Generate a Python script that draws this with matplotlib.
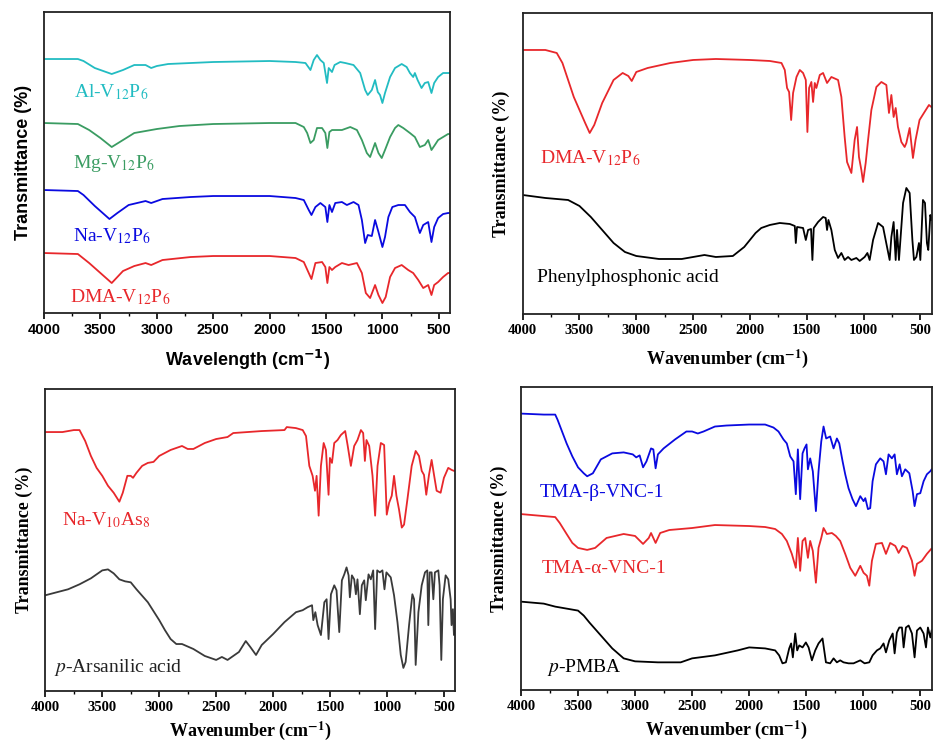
import numpy as np
import matplotlib
matplotlib.use('Agg')
import matplotlib.pyplot as plt
from matplotlib.ticker import MultipleLocator

# FTIR spectra, (wavenumber cm-1, transmittance a.u.) pairs

# panel a: V12P6 salts
al_v12p6 = [(4000, 254), (3700, 254), (3650, 252), (3550, 245), (3450, 241), (3400, 239), (3300, 243),
            (3200, 248), (3100, 248), (3050, 245), (3000, 247), (2900, 249), (2500, 251), (2000, 252),
            (1770, 251), (1682, 250), (1638, 243), (1609, 253), (1580, 258), (1550, 253), (1520, 250),
            (1491, 230), (1476, 245), (1447, 241), (1424, 248), (1374, 251), (1329, 250), (1256, 248),
            (1197, 240), (1153, 223), (1130, 218), (1094, 223), (1065, 233), (1041, 221), (1021, 218),
            (1000, 210), (977, 220), (932, 236), (888, 245), (829, 249), (785, 246), (756, 240), (727, 236),
            (712, 240), (688, 233), (653, 225), (624, 230), (594, 231), (565, 220), (541, 230), (506, 236),
            (462, 240), (418, 240), (400, 240)]
mg_v12p6 = [(4000, 190), (3700, 189), (3600, 183), (3500, 175), (3400, 166), (3300, 173), (3200, 180),
            (3050, 183), (3000, 184), (2800, 187), (2500, 189), (2000, 190), (1770, 190), (1697, 186),
            (1667, 180), (1638, 170), (1609, 173), (1580, 185), (1535, 185), (1506, 180), (1488, 165),
            (1470, 181), (1447, 183), (1403, 183), (1359, 183), (1285, 186), (1226, 183), (1182, 173),
            (1138, 160), (1109, 156), (1065, 170), (1035, 160), (1006, 155), (977, 163), (932, 176),
            (888, 185), (859, 188), (815, 185), (756, 180), (712, 176), (668, 166), (624, 168), (594, 173),
            (565, 163), (535, 168), (506, 173), (462, 176), (418, 179), (400, 179)]
na_v12p6 = [(4000, 123), (3700, 122), (3650, 118), (3550, 107), (3450, 97), (3420, 94), (3350, 100),
            (3250, 108), (3100, 112), (3050, 110), (2950, 114), (2700, 116), (2500, 117), (2000, 117),
            (1770, 115), (1697, 113), (1653, 103), (1629, 98), (1594, 106), (1550, 110), (1506, 106),
            (1488, 91), (1470, 108), (1447, 101), (1418, 110), (1359, 111), (1315, 108), (1256, 111),
            (1212, 108), (1182, 93), (1153, 70), (1130, 78), (1094, 77), (1065, 93), (1035, 81), (1000, 66),
            (977, 76), (947, 96), (912, 106), (859, 108), (800, 108), (756, 101), (712, 96), (668, 80),
            (638, 88), (594, 91), (565, 71), (541, 86), (506, 95), (462, 99), (418, 100), (400, 100)]
dma_v12p6 = [(4000, 60), (3700, 59), (3600, 50), (3500, 40), (3400, 30), (3300, 42), (3200, 47), (3100, 50),
             (3050, 48), (2950, 53), (2700, 56), (2500, 57), (2000, 57), (1770, 55), (1697, 51), (1653, 40),
             (1629, 34), (1594, 50), (1535, 51), (1506, 46), (1488, 30), (1470, 46), (1447, 43), (1418, 46),
             (1359, 50), (1300, 48), (1226, 50), (1182, 40), (1147, 20), (1109, 15), (1065, 28), (1035, 18),
             (1000, 10), (971, 16), (932, 36), (888, 45), (829, 48), (771, 43), (727, 40), (682, 33),
             (638, 25), (594, 28), (565, 18), (541, 28), (506, 31), (462, 36), (418, 40), (400, 40)]

# panel b: DMA-V12P6 vs phenylphosphonic acid
dma_v12p6_b = [(4000, 264), (3800, 264), (3700, 261), (3650, 251), (3600, 234), (3550, 217), (3500, 204),
               (3450, 191), (3410, 181), (3370, 189), (3300, 211), (3200, 234), (3120, 241), (3070, 238),
               (3040, 233), (3000, 242), (2900, 246), (2700, 251), (2500, 254), (2300, 255), (2000, 254),
               (1825, 253), (1722, 251), (1693, 244), (1673, 226), (1655, 222), (1637, 194), (1620, 221),
               (1590, 237), (1561, 244), (1532, 241), (1508, 234), (1494, 182), (1479, 226), (1459, 232),
               (1444, 212), (1429, 231), (1415, 226), (1385, 239), (1356, 241), (1321, 231), (1283, 237),
               (1224, 234), (1195, 217), (1166, 177), (1145, 152), (1107, 141), (1078, 174), (1057, 187),
               (1040, 157), (1019, 144), (1004, 132), (981, 151), (960, 174), (931, 204), (887, 227),
               (843, 232), (799, 229), (776, 201), (755, 219), (735, 197), (717, 206), (697, 187), (667, 172),
               (638, 167), (623, 171), (594, 186), (565, 156), (542, 174), (507, 194), (463, 202), (424, 209),
               (403, 207)]
phenylphosphonic = [(4000, 119), (3800, 116), (3600, 114), (3500, 108), (3400, 97), (3300, 84), (3200, 71),
                    (3100, 62), (3000, 58), (2800, 55), (2600, 55), (2400, 59), (2300, 57), (2150, 58),
                    (2050, 67), (1950, 81), (1900, 86), (1825, 89), (1737, 91), (1649, 90), (1605, 88),
                    (1596, 71), (1585, 87), (1532, 86), (1508, 74), (1488, 84), (1462, 85), (1450, 54),
                    (1438, 86), (1400, 92), (1356, 97), (1333, 96), (1321, 84), (1309, 94), (1283, 84),
                    (1253, 64), (1224, 56), (1195, 61), (1166, 54), (1136, 57), (1107, 54), (1063, 56),
                    (1034, 53), (990, 57), (966, 61), (946, 54), (916, 74), (872, 91), (828, 87), (793, 67),
                    (770, 54), (755, 77), (735, 92), (717, 54), (705, 84), (688, 54), (652, 111), (623, 126),
                    (594, 121), (570, 74), (556, 54), (535, 57), (512, 71), (500, 54), (477, 114), (459, 111),
                    (442, 71), (430, 64), (412, 99), (400, 94)]

# panel c: Na-V10As8 vs p-arsanilic acid
na_v10as8 = [(4000, 260), (3850, 260), (3750, 262), (3700, 262), (3650, 251), (3600, 236), (3550, 224),
             (3500, 216), (3450, 206), (3400, 199), (3350, 190), (3320, 199), (3280, 216), (3250, 216),
             (3230, 214), (3200, 219), (3150, 226), (3100, 229), (3050, 230), (3000, 236), (2900, 242),
             (2800, 246), (2750, 243), (2700, 243), (2600, 249), (2500, 253), (2400, 255), (2350, 259),
             (2100, 261), (1900, 262), (1880, 265), (1800, 264), (1740, 262), (1711, 256), (1682, 226),
             (1653, 216), (1632, 201), (1618, 216), (1600, 176), (1580, 226), (1556, 249), (1536, 242),
             (1513, 197), (1501, 234), (1483, 229), (1463, 249), (1434, 252), (1405, 257), (1367, 261),
             (1346, 247), (1317, 226), (1288, 246), (1259, 252), (1229, 262), (1209, 259), (1194, 231),
             (1180, 252), (1156, 246), (1127, 216), (1104, 176), (1083, 226), (1054, 249), (1025, 247),
             (1002, 177), (981, 189), (958, 196), (938, 216), (917, 196), (894, 182), (870, 164), (850, 167),
             (821, 192), (783, 226), (748, 241), (719, 236), (695, 221), (675, 217), (655, 197), (631, 217),
             (608, 232), (587, 217), (564, 201), (529, 199), (500, 214), (462, 224), (433, 222), (412, 221),
             (400, 221)]
arsanilic = [(4000, 96), (3900, 99), (3800, 102), (3700, 107), (3600, 113), (3500, 121), (3450, 122),
             (3400, 118), (3350, 112), (3300, 110), (3250, 109), (3200, 102), (3100, 89), (3000, 71),
             (2950, 61), (2900, 52), (2850, 47), (2800, 47), (2700, 42), (2600, 35), (2500, 31), (2450, 34),
             (2400, 31), (2300, 39), (2240, 50), (2200, 44), (2150, 36), (2100, 46), (2000, 57), (1900, 69),
             (1799, 79), (1740, 81), (1697, 84), (1658, 86), (1647, 71), (1629, 79), (1609, 66), (1580, 56),
             (1550, 89), (1530, 92), (1513, 52), (1492, 97), (1463, 106), (1443, 101), (1419, 59),
             (1396, 111), (1375, 117), (1355, 124), (1337, 116), (1326, 94), (1308, 116), (1288, 112),
             (1273, 97), (1259, 112), (1238, 77), (1221, 106), (1200, 111), (1186, 91), (1162, 117),
             (1142, 112), (1121, 121), (1104, 62), (1086, 121), (1063, 119), (1040, 121), (1022, 102),
             (1005, 119), (967, 114), (938, 96), (908, 69), (879, 36), (856, 23), (836, 29), (806, 66),
             (777, 97), (762, 92), (748, 26), (724, 79), (695, 106), (666, 119), (646, 121), (637, 66),
             (625, 119), (608, 119), (593, 92), (579, 119), (549, 121), (538, 106), (523, 31), (509, 92),
             (485, 116), (462, 112), (441, 92), (433, 66), (421, 82), (412, 56), (400, 60)]

# panel d: TMA-VNC-1 phases vs p-PMBA
tma_beta = [(4000, 278), (3800, 277), (3700, 277), (3680, 272), (3650, 263), (3600, 248), (3550, 235),
            (3500, 224), (3450, 218), (3420, 215), (3370, 218), (3300, 232), (3200, 238), (3100, 239),
            (3020, 237), (2990, 234), (2960, 236), (2930, 224), (2900, 230), (2860, 243), (2840, 242),
            (2820, 223), (2800, 237), (2750, 243), (2650, 252), (2550, 260), (2500, 260), (2450, 258),
            (2400, 260), (2300, 265), (2200, 266), (2000, 267), (1860, 267), (1787, 264), (1743, 260),
            (1699, 252), (1670, 248), (1640, 235), (1611, 230), (1591, 197), (1573, 242), (1553, 192),
            (1532, 238), (1515, 243), (1497, 247), (1485, 222), (1465, 233), (1442, 220), (1415, 180),
            (1392, 220), (1368, 250), (1348, 265), (1325, 253), (1290, 255), (1260, 243), (1231, 253),
            (1210, 248), (1181, 230), (1158, 217), (1129, 203), (1094, 192), (1064, 185), (1026, 195),
            (997, 190), (982, 193), (959, 182), (939, 183), (918, 210), (889, 227), (851, 233), (822, 230),
            (801, 217), (778, 237), (749, 233), (725, 237), (705, 217), (681, 227), (661, 215), (632, 222),
            (596, 218), (567, 200), (550, 185), (529, 197), (500, 198), (471, 210), (442, 217), (413, 220),
            (400, 222)]
tma_alpha = [(4000, 177), (3800, 175), (3700, 174), (3660, 168), (3600, 157), (3550, 148), (3500, 143),
             (3420, 141), (3350, 143), (3250, 153), (3100, 157), (3000, 155), (2930, 147), (2880, 153),
             (2860, 158), (2820, 148), (2780, 158), (2700, 161), (2500, 163), (2300, 166), (2000, 165),
             (1860, 164), (1772, 162), (1713, 157), (1670, 150), (1626, 137), (1591, 123), (1573, 153),
             (1553, 120), (1532, 150), (1509, 153), (1485, 133), (1465, 150), (1442, 140), (1415, 108),
             (1392, 143), (1368, 153), (1348, 163), (1319, 157), (1275, 158), (1240, 155), (1202, 150),
             (1158, 137), (1114, 123), (1070, 115), (1026, 125), (997, 118), (968, 115), (947, 105),
             (924, 130), (889, 147), (836, 148), (801, 137), (764, 148), (719, 145), (690, 138), (655, 145),
             (617, 143), (573, 130), (550, 115), (529, 127), (486, 130), (442, 137), (404, 142)]
pmba = [(4000, 89), (3800, 87), (3700, 84), (3600, 82), (3500, 80), (3450, 75), (3400, 68), (3300, 55),
        (3200, 42), (3100, 32), (3000, 29), (2800, 28), (2600, 28), (2500, 32), (2300, 35), (2100, 40),
        (2000, 43), (1860, 42), (1772, 40), (1737, 35), (1708, 27), (1678, 28), (1649, 42), (1632, 47),
        (1617, 33), (1596, 57), (1579, 40), (1561, 45), (1532, 43), (1503, 48), (1479, 43), (1450, 30),
        (1421, 40), (1392, 47), (1357, 52), (1327, 28), (1290, 27), (1260, 32), (1231, 28), (1202, 30),
        (1173, 28), (1129, 27), (1085, 27), (1026, 30), (988, 27), (947, 28), (918, 35), (880, 40),
        (851, 42), (822, 47), (801, 38), (772, 50), (742, 57), (725, 37), (705, 58), (684, 63), (661, 63),
        (646, 43), (626, 63), (602, 65), (573, 57), (550, 33), (529, 60), (500, 63), (471, 57), (450, 43),
        (433, 63), (412, 53), (400, 60)]

SERIF = 'Liberation Serif'
SANS = 'Liberation Sans'

fig = plt.figure(figsize=(9.33, 7.46), dpi=100)


def panel(rect, ylim, sans=False, xpad=8):
    ax = fig.add_axes(rect)
    ax.set_xlim(4000, 400)
    ax.set_ylim(0, ylim)
    ax.xaxis.set_major_locator(MultipleLocator(500))
    ax.xaxis.set_minor_locator(MultipleLocator(250))
    ax.set_yticks([])
    ax.tick_params(axis='x', which='major', direction='out', length=4, width=1.2, pad=3)
    ax.tick_params(axis='x', which='minor', direction='out', length=2.5, width=1.0)
    for s in ax.spines.values():
        s.set_linewidth(1.3)
        s.set_color('#222222')
    fam = SANS if sans else SERIF
    mfam = 'dejavusans' if sans else 'stix'
    for lab in ax.get_xticklabels():
        lab.set_fontfamily(fam)
        lab.set_fontweight('bold')
        lab.set_fontsize(10.5)
    xname = 'Wavelength' if sans else 'Wavenumber'
    ax.set_xlabel(xname + r' (cm$^{\mathbf{-1}}$)', family=fam, weight='bold', fontsize=13,
                  math_fontfamily=mfam, labelpad=xpad)
    ax.set_ylabel('Transmittance (%)', family=fam, weight='bold', fontsize=13, labelpad=9)
    return ax


def trace(ax, pts, color):
    arr = np.array(pts, dtype=float)
    ax.plot(arr[:, 0], arr[:, 1], color=color, lw=1.3)


def label(ax, x, y, s, color):
    ax.text(x, y, s, color=color, family=SERIF, fontsize=14, ha='left', va='baseline',
            math_fontfamily='stix')


CYAN = '#22bcc2'
GREEN = '#3a9c62'
BLUE = '#0a0ae0'
RED = '#e8272b'

# a
ax1 = panel([0.0472, 0.5804, 0.4352, 0.4035], 301, sans=True)
trace(ax1, al_v12p6, CYAN)
trace(ax1, mg_v12p6, GREEN)
trace(ax1, na_v12p6, BLUE)
trace(ax1, dma_v12p6, RED)
label(ax1, 3734, 216, r'Al-V$_{12}$P$_{6}$', CYAN)
label(ax1, 3743, 145, r'Mg-V$_{12}$P$_{6}$', GREEN)
label(ax1, 3743, 72, r'Na-V$_{12}$P$_{6}$', BLUE)
label(ax1, 3770, 11, r'DMA-V$_{12}$P$_{6}$', RED)

# b
ax2 = panel([0.5602, 0.5791, 0.4384, 0.4035], 301)
trace(ax2, dma_v12p6_b, RED)
trace(ax2, phenylphosphonic, 'black')
label(ax2, 3848, 151, r'DMA-V$_{12}$P$_{6}$', RED)
label(ax2, 3877, 32, 'Phenylphosphonic acid', 'black')

# c
ax3 = panel([0.0486, 0.0740, 0.4394, 0.4042], 303, xpad=4)
trace(ax3, na_v10as8, RED)
trace(ax3, arsanilic, '#3a3a3a')
label(ax3, 3856, 166, r'Na-V$_{10}$As$_{8}$', RED)
label(ax3, 3924, 19, r'$p$-Arsanilic acid', '#222222')

# d
ax4 = panel([0.5584, 0.0748, 0.4402, 0.4068], 305, xpad=4)
trace(ax4, tma_beta, BLUE)
trace(ax4, tma_alpha, RED)
trace(ax4, pmba, 'black')
label(ax4, 3833, 194, 'TMA-β-VNC-1', BLUE)
label(ax4, 3818, 118, 'TMA-α-VNC-1', RED)
label(ax4, 3769, 18, r'$p$-PMBA', 'black')

fig.savefig('out.png', dpi=100)
